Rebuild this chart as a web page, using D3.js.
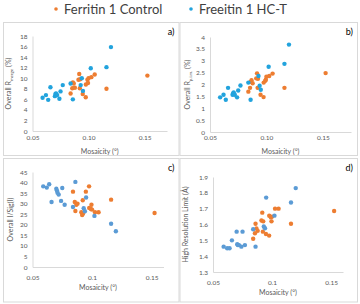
<!DOCTYPE html>
<html>
<head>
<meta charset="utf-8">
<script src="https://cdn.jsdelivr.net/npm/d3@7"></script>
<style>
  body { margin: 0; background: #fff; }
  text { font-family: Lato, "Open Sans", sans-serif; }
</style>
</head>
<body>
<div id="chart"></div>
<script>
// series names
const seriesNames = ['Ferritin 1 Control', 'Freeitin 1 HC-T']

// mosaicity (deg), shared by all four panels
const controlMosaicity = [0.084, 0.0855, 0.086, 0.0868, 0.0878, 0.091, 0.0917, 0.0922, 0.0925, 0.0948,
  0.0975, 0.0976, 0.099, 0.0995, 0.100, 0.1025, 0.1055, 0.116, 0.1525]
const hctMosaicity = [0.059, 0.062, 0.064, 0.066, 0.070, 0.0705, 0.071, 0.072, 0.074, 0.075,
  0.077, 0.084, 0.086, 0.093, 0.094, 0.095, 0.102, 0.116, 0.120]

// a) Overall Rmerge (%)
const controlRmerge = [7.1, 8.1, 9.2, 9.0, 8.2, 9.7, 10.8, 8.1, 9.8, 7.0, 6.4, 8.8, 9.7, 9.1, 10.0, 10.2, 10.7, 8.0, 10.5]
const hctRmerge = [6.3, 6.8, 5.9, 8.3, 6.6, 7.0, 7.1, 6.8, 6.1, 7.5, 8.7, 9.0, 6.0, 8.7, 10.0, 7.6, 11.9, 12.1, 15.9]

// b) Overall Rpim (%)
const controlRpim = [1.70, 1.86, 2.11, 2.18, 2.05, 2.26, 2.47, 1.86, 2.24, 1.57, 1.47, 2.08, 2.16, 2.20, 2.33, 2.36, 2.46, 1.86, 2.48]
const hctRpim = [1.46, 1.57, 1.36, 1.86, 1.57, 1.62, 1.67, 1.57, 1.46, 1.75, 1.96, 2.08, 1.36, 2.36, 1.95, 1.78, 2.75, 2.87, 3.68]

// c) Overall I/Sig(I)
const controlISig = [35.7, 30.8, 26.5, 29.5, 30.0, 25.9, 24.6, 31.6, 25.3, 35.7, 38.2, 28.0, 27.5, 29.5, 27.2, 25.9, 25.9, 31.9, 25.6]
const hctISig = [38.2, 37.6, 39.2, 30.8, 37.1, 36.2, 35.2, 34.3, 31.3, 37.4, 29.5, 28.4, 40.3, 27.8, 26.4, 32.9, 24.2, 20.5, 16.9]

// d) High resolution limit (Å)
const controlResolution = [1.51, 1.545, 1.605, 1.575, 1.56, 1.625, 1.675, 1.555, 1.62, 1.54, 1.53, 1.655, 1.645, 1.62, 1.65, 1.70, 1.70, 1.605, 1.685]
const hctResolution = [1.46, 1.45, 1.45, 1.50, 1.555, 1.475, 1.47, 1.47, 1.46, 1.555, 1.47, 1.57, 1.46, 1.587, 1.576, 1.77, 1.656, 1.739, 1.83]

// tick values
const mosaicityTicks = [0.05, 0.10, 0.15]
const rmergeTicks = [0, 2, 4, 6, 8, 10, 12, 14, 16, 18]
const rpimTicks = [0, 0.5, 1, 1.5, 2, 2.5, 3, 3.5, 4]
const iSigTicks = [0, 5, 10, 15, 20, 25, 30, 35, 40, 45]
const resolutionTicks = [1.3, 1.4, 1.5, 1.6, 1.7, 1.8, 1.9]

const ORANGE = '#ED7D31'
const CYAN = '#22A3DD'
const STEEL = '#5B9BD5'

const width = 360, height = 304

const svg = d3.select('#chart')
  .append('svg')
  .attr('width', width)
  .attr('height', height)

// legend
const legend = svg.append('g').attr('class', 'legend')
const legendItems = [
  { name: seriesNames[0], color: ORANGE, x: 56 },
  { name: seriesNames[1], color: CYAN, x: 191 }
]
legend.selectAll('circle')
  .data(legendItems)
  .join('circle')
  .attr('cx', d => d.x)
  .attr('cy', 9)
  .attr('r', 1.8)
  .attr('fill', d => d.color)
legend.selectAll('text')
  .data(legendItems)
  .join('text')
  .attr('x', d => d.x + 8)
  .attr('y', 13.5)
  .attr('font-size', 13)
  .attr('fill', '#404040')
  .text(d => d.name)

const panels = [
  {
    tag: 'a)', frame: [3, 22.5, 178.5, 155.5],
    xDomain: [0.05, 0.17], xRange: [32.5, 167],
    yDomain: [0, 18], yRange: [131, 36], yTicks: rmergeTicks, yFormat: d3.format('d'),
    xFormat: d3.format('.2f'), xTickY: 140, xTitleY: 153.5,
    yTitle: ['Overall R', 'merge', ' (%)'], yTitleX: 11,
    series: [
      { x: controlMosaicity, y: controlRmerge, color: ORANGE },
      { x: hctMosaicity, y: hctRmerge, color: CYAN }
    ]
  },
  {
    tag: 'b)', frame: [179.5, 22.5, 357, 155.5],
    xDomain: [0.05, 0.175], xRange: [210, 351],
    yDomain: [0, 4], yRange: [132, 37], yTicks: rpimTicks, yFormat: d => String(d),
    xFormat: d3.format('.2f'), xTickY: 140, xTitleY: 153.5,
    yTitle: ['Overall R', 'p.i.m.', ' (%)'], yTitleX: 190,
    series: [
      { x: controlMosaicity, y: controlRpim, color: ORANGE },
      { x: hctMosaicity, y: hctRpim, color: CYAN }
    ]
  },
  {
    tag: 'c)', frame: [3, 158.5, 178.5, 302],
    xDomain: [0.05, 0.16], xRange: [32.5, 163.5],
    yDomain: [0, 45], yRange: [267, 172], yTicks: iSigTicks, yFormat: d3.format('d'),
    xFormat: d => String(+d.toFixed(2)), xTickY: 279.5, xTitleY: 289.5,
    yTitle: ['Overall I/Sig(I)'], yTitleX: 13,
    series: [
      { x: controlMosaicity, y: controlISig, color: ORANGE },
      { x: hctMosaicity, y: hctISig, color: STEEL }
    ]
  },
  {
    tag: 'd)', frame: [179.5, 158.5, 357, 302],
    xDomain: [0.05, 0.16], xRange: [213, 343],
    yDomain: [1.3, 1.9], yRange: [272, 177], yTicks: resolutionTicks, yFormat: d3.format('.1f'),
    xFormat: d => String(+d.toFixed(2)), xTickY: 284.5, xTitleY: 294.5,
    yTitle: ['High Resolution Limit (Å)'], yTitleX: 188,
    series: [
      { x: controlMosaicity, y: controlResolution, color: ORANGE },
      { x: hctMosaicity, y: hctResolution, color: STEEL }
    ]
  }
]

panels.forEach(p => {
  const g = svg.append('g')
  const [fx0, fy0, fx1, fy1] = p.frame

  g.append('rect')
    .attr('x', fx0 + 0.5).attr('y', fy0)
    .attr('width', fx1 - fx0).attr('height', fy1 - fy0)
    .attr('fill', 'none')
    .attr('stroke', '#d9d9d9')

  const x = d3.scaleLinear().domain(p.xDomain).range(p.xRange)
  const y = d3.scaleLinear().domain(p.yDomain).range(p.yRange)

  // axes: Excel-style, light grey lines, no tick marks
  const styleAxis = a => {
    a.select('.domain').attr('stroke', '#d9d9d9')
    a.selectAll('.tick line').remove()
    a.selectAll('.tick text')
      .attr('fill', '#595959')
      .attr('font-size', 6.5)
      .attr('font-family', 'Lato, "Open Sans", sans-serif')
  }

  g.append('g')
    .attr('transform', `translate(0,${p.yRange[0]})`)
    .call(d3.axisBottom(x).tickValues(mosaicityTicks).tickFormat(p.xFormat).tickSize(0).tickSizeOuter(0).tickPadding(0))
    .call(styleAxis)
    .call(a => a.selectAll('.tick text').attr('dy', null).attr('y', p.xTickY - p.yRange[0]))

  g.append('g')
    .attr('transform', `translate(${p.xRange[0]},0)`)
    .call(d3.axisLeft(y).tickValues(p.yTicks).tickFormat(p.yFormat).tickSize(0).tickSizeOuter(0).tickPadding(5))
    .call(styleAxis)

  // x title
  g.append('text')
    .attr('x', (p.xRange[0] + p.xRange[1]) / 2)
    .attr('y', p.xTitleY)
    .attr('text-anchor', 'middle')
    .attr('font-size', 7)
    .attr('fill', '#595959')
    .text('Mosaicity (°)')

  // y title (with subscript when needed)
  const yt = g.append('text')
    .attr('transform', `translate(${p.yTitleX},${(p.yRange[0] + p.yRange[1]) / 2}) rotate(-90)`)
    .attr('text-anchor', 'middle')
    .attr('font-size', 7)
    .attr('fill', '#595959')
  yt.append('tspan').text(p.yTitle[0])
  if (p.yTitle.length > 1) {
    yt.append('tspan').attr('font-size', 4.5).attr('dy', 1.5).text(p.yTitle[1])
    yt.append('tspan').attr('dy', -1.5).text(p.yTitle[2])
  }

  // panel tag
  g.append('text')
    .attr('x', fx1 - 4)
    .attr('y', fy0 + 12.5)
    .attr('text-anchor', 'end')
    .attr('font-size', 9)
    .attr('fill', '#000')
    .text(p.tag)

  // points
  p.series.forEach(s => {
    g.append('g')
      .selectAll('circle')
      .data(s.x.map((v, i) => [v, s.y[i]]))
      .join('circle')
      .attr('cx', d => x(d[0]))
      .attr('cy', d => y(d[1]))
      .attr('r', 2.2)
      .attr('fill', s.color)
  })
})
</script>
</body>
</html>
